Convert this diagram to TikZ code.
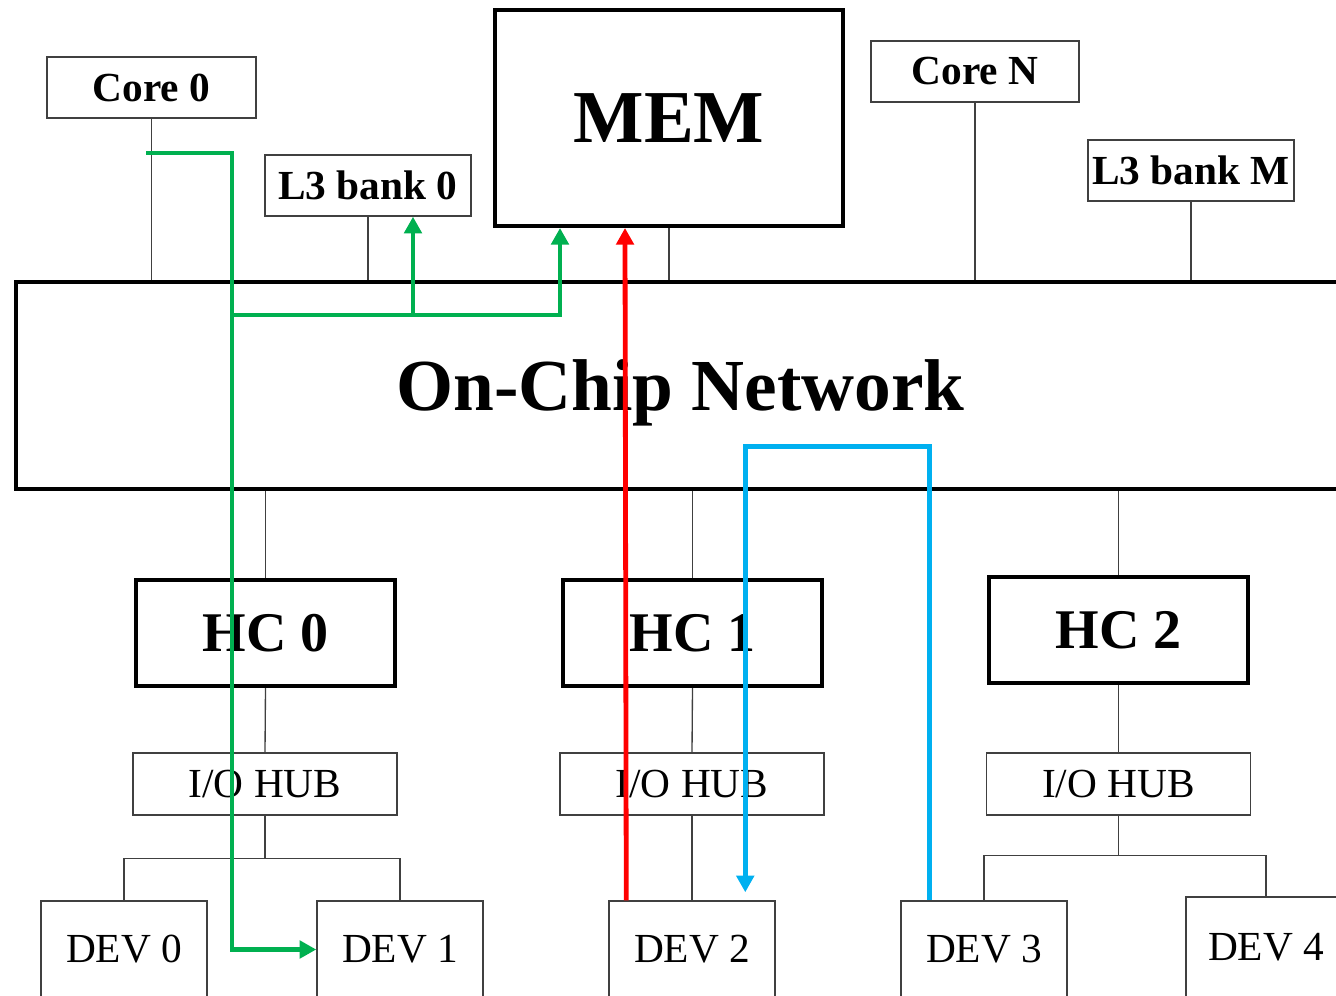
\documentclass[tikz,border=0pt]{standalone}
\usepackage{fontspec}
\setmainfont{Liberation Serif}
\usetikzlibrary{arrows.meta}
\definecolor{pathG}{RGB}{0,176,80}
\definecolor{pathR}{RGB}{255,0,0}
\definecolor{pathB}{RGB}{0,176,240}
\tikzset{
  thinbox/.style={draw=black!75,line width=1.1pt,rectangle,inner sep=0pt,font=\fontsize{31}{31}\selectfont},
  boldbox/.style={thinbox,font=\fontsize{31}{31}\selectfont\bfseries},
  thickbox/.style={draw=black,line width=3pt,rectangle,inner sep=0pt},
  hcbox/.style={thickbox,minimum width=194.25pt,minimum height=79.5pt,font=\fontsize{42}{42}\selectfont\bfseries},
  hubbox/.style={thinbox,minimum width=198pt,minimum height=46.5pt},
  devbox/.style={thinbox,minimum width=124.5pt,minimum height=72.75pt},
  bus/.style={draw=black!75,line width=1pt},
  route/.style={line width=3.6pt,-{Triangle[length=12.5pt,width=13pt]}},
}
\begin{document}
\begin{tikzpicture}[x=0.75pt,y=-0.75pt]
  \useasboundingbox (0,0) rectangle (1336,996);
  \clip (0,0) rectangle (1336,996);
  % top row
  \node[boldbox,minimum width=156.75pt,minimum height=45.75pt] (core0) at (151.5,87.5) {Core 0};
  \node[boldbox,minimum width=154.5pt,minimum height=45.75pt] (l3a) at (368,185.5) {L3 bank 0};
  \node[thickbox,minimum width=261pt,minimum height=162pt,font=\fontsize{56}{56}\selectfont\bfseries] (mem) at (669,118) {MEM};
  \node[boldbox,minimum width=156pt,minimum height=45.75pt] (coreN) at (975,71.5) {Core N};
  \node[boldbox,minimum width=154.5pt,minimum height=45.75pt] (l3m) at (1191,170.5) {L3 bank M};
  % network
  \node[thickbox,minimum width=996.75pt,minimum height=155.25pt,text depth=0pt,font=\fontsize{55}{55}\selectfont\bfseries] (noc) at (680.5,385.5) {On-Chip Network};
  % host controllers and hubs
  \node[hcbox] (hc0) at (265.5,633) {HC 0};
  \node[hcbox] (hc1) at (692.5,633) {HC 1};
  \node[hcbox] (hc2) at (1118.5,630) {HC 2};
  \node[hubbox] (hub0) at (265,784) {I/O HUB};
  \node[hubbox] (hub1) at (692,784) {I/O HUB};
  \node[hubbox] (hub2) at (1118.5,784) {I/O HUB};
  % devices
  \node[devbox] (dev0) at (124,949.5) {DEV 0};
  \node[devbox] (dev1) at (400,949.5) {DEV 1};
  \node[devbox] (dev2) at (692,949.5) {DEV 2};
  \node[devbox] (dev3) at (984,949.5) {DEV 3};
  \node[devbox,minimum width=120pt,minimum height=75.75pt] (dev4) at (1266,947.5) {DEV 4};
  % bus lines
  \foreach \n in {core0,l3a,mem,coreN,l3m}
    \draw[bus] (\n.south) -- (\n.south |- noc.north);
  \foreach \n in {hc0,hc1,hc2}
    \draw[bus] (\n.north |- noc.south) -- (\n.north);
  \foreach \i in {0,1,2}
    \draw[bus] (hc\i.south) -- (hub\i.north);
  \coordinate (fork0) at ([yshift=-32.25pt]hub0.south);
  \coordinate (fork2) at ([yshift=-30pt]hub2.south);
  \draw[bus] (hub0.south) -- (fork0);
  \draw[bus] (dev0.north) |- (fork0) -| (dev1.north);
  \draw[bus] (hub1.south) -- (dev2.north);
  \draw[bus] (hub2.south) -- (fork2);
  \draw[bus] (dev3.north) |- (fork2) -| (dev4.north);
  % access paths
  \coordinate (gstart) at (146,153);
  \coordinate (gturn) at (232,153);
  \coordinate (gsplit) at (232,315);
  \coordinate (gl3) at ([xshift=33.75pt]l3a.south);
  \coordinate (gmem) at ([xshift=50.25pt]mem.south west);
  \coordinate (rmem) at ([xshift=99pt]mem.south west);
  \draw[route,pathG] (gstart) -- (gturn) |- (dev1.west);
  \draw[route,pathG] (gsplit) -| (gmem);
  \draw[route,pathG] (gl3 |- gsplit) -- (gl3);
  \draw[route,pathR] ([xshift=13.5pt]dev2.north west) -- (rmem);
  \draw[route,pathB] ([xshift=21.75pt]dev3.north west) -- ++(0,-454) -| ([xshift=102.75pt,yshift=6pt]dev2.north west);
\end{tikzpicture}
\end{document}
